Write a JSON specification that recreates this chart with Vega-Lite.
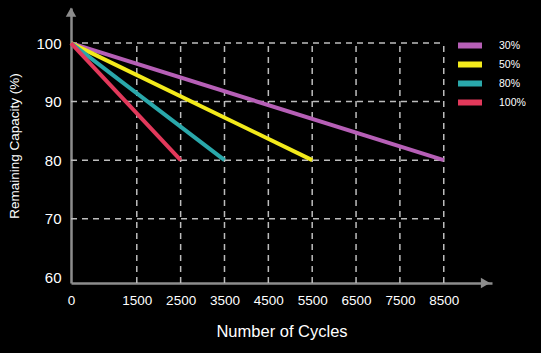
{
  "$schema": "https://vega.github.io/schema/vega-lite/v6.json",
  "autosize": {"type": "none"},
  "width": 421,
  "height": 275,
  "padding": {"left": 71, "top": 8, "right": 49, "bottom": 70},
  "background": "#000000",
  "config": {
    "view": {"stroke": null},
    "font": "Liberation Sans"
  },
  "datasets": {
    "lines": [
      {"series": "30%", "cycles": 0, "capacity": 100},
      {"series": "30%", "cycles": 8500, "capacity": 80},
      {"series": "50%", "cycles": 0, "capacity": 100},
      {"series": "50%", "cycles": 5500, "capacity": 80},
      {"series": "80%", "cycles": 0, "capacity": 100},
      {"series": "80%", "cycles": 3500, "capacity": 80},
      {"series": "100%", "cycles": 0, "capacity": 100},
      {"series": "100%", "cycles": 2500, "capacity": 80}
    ],
    "hgrid": [{"capacity": 70}, {"capacity": 80}, {"capacity": 90}, {"capacity": 100}],
    "vgrid": [{"cycles": 1500}, {"cycles": 2500}, {"cycles": 3500}, {"cycles": 4500}, {"cycles": 5500}, {"cycles": 6500}, {"cycles": 7500}, {"cycles": 8500}]
  },
  "layer": [
    {
      "data": {"name": "hgrid"},
      "mark": {"type": "rule", "color": "#bdbdbd", "strokeDash": [6, 5], "strokeWidth": 1.5},
      "encoding": {
        "y": {"field": "capacity", "type": "quantitative", "scale": {"domain": [59, 106], "nice": false, "zero": false}},
        "x": {"datum": 0, "type": "quantitative", "scale": {"domain": [0, 9600], "nice": false}},
        "x2": {"datum": 8500}
      }
    },
    {
      "data": {"name": "vgrid"},
      "mark": {"type": "rule", "color": "#bdbdbd", "strokeDash": [6, 5], "strokeWidth": 1.5},
      "encoding": {
        "x": {"field": "cycles", "type": "quantitative"},
        "y": {"datum": 59, "type": "quantitative"},
        "y2": {"datum": 100}
      }
    },
    {
      "data": {"name": "lines"},
      "mark": {"type": "line", "strokeWidth": 4, "strokeCap": "butt"},
      "encoding": {
        "x": {
          "field": "cycles", "type": "quantitative",
          "axis": {
            "title": "Number of Cycles",
            "values": [0, 1500, 2500, 3500, 4500, 5500, 6500, 7500, 8500],
            "format": "d",
            "grid": false, "ticks": false,
            "domainColor": "#8c8c8c", "domainWidth": 2.5,
            "labelColor": "#ffffff", "labelFontSize": 13.5, "labelPadding": 10,
            "labelFlush": false,
            "titleColor": "#ffffff", "titleFontSize": 16.5, "titleFontWeight": "normal", "titlePadding": 17
          }
        },
        "y": {
          "field": "capacity", "type": "quantitative",
          "axis": {
            "title": "Remaining Capacity (%)",
            "values": [60, 70, 80, 90, 100],
            "grid": false, "ticks": false,
            "domainColor": "#8c8c8c", "domainWidth": 2.5,
            "labelColor": "#ffffff", "labelFontSize": 15, "labelPadding": 10,
            "titleColor": "#ffffff", "titleFontSize": 13.5, "titleFontWeight": "normal", "titlePadding": 14
          }
        },
        "color": {
          "field": "series", "type": "nominal",
          "scale": {"domain": ["30%", "50%", "80%", "100%"], "range": ["#b65fb6", "#f3ea1b", "#2aa8ab", "#e2395b"]},
          "legend": {
            "title": null, "orient": "none", "legendX": 384, "legendY": 28,
            "symbolType": "stroke", "symbolStrokeWidth": 6, "symbolSize": 576,
            "labelColor": "#ffffff", "labelFontSize": 10.5, "labelOffset": 14,
            "rowPadding": 0, "clipHeight": 19
          }
        }
      }
    },
    {
      "data": {"values": [{}]},
      "mark": {"type": "point", "shape": "triangle-up", "filled": true, "color": "#8c8c8c", "size": 110, "opacity": 1},
      "encoding": {"x": {"datum": 0, "type": "quantitative"}, "y": {"datum": 105.3, "type": "quantitative"}}
    },
    {
      "data": {"values": [{}]},
      "mark": {"type": "point", "shape": "triangle-right", "filled": true, "color": "#8c8c8c", "size": 110, "opacity": 1},
      "encoding": {"x": {"datum": 9450, "type": "quantitative"}, "y": {"datum": 59, "type": "quantitative"}}
    }
  ]
}
